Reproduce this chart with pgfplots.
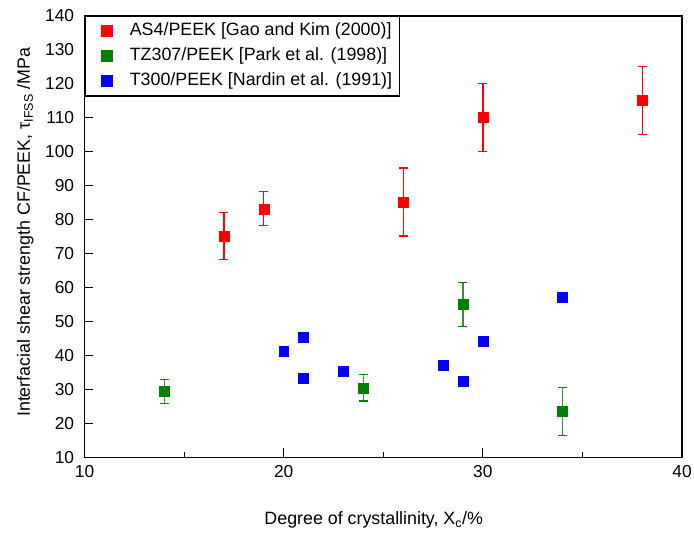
\documentclass[border=0pt]{standalone}
\usepackage{fontspec}
\setmainfont{Liberation Sans}
\usepackage{pgfplots}
\pgfplotsset{compat=1.18}
\usetikzlibrary{calc}
\definecolor{cred}{RGB}{255,0,0}
\definecolor{cgreen}{RGB}{0,128,0}
\definecolor{cblue}{RGB}{0,0,255}
\begin{document}
\begin{tikzpicture}
\begin{axis}[
  name=ax,
  scale only axis,
  width=601bp, height=444bp,
  xmin=10, xmax=40, ymin=10, ymax=140,
  xtick={10,20,30,40},
  ytick={10,20,...,140},
  minor x tick num=1,
  xtick pos=bottom, ytick pos=left,
  tick align=inside,
  major tick length=9bp, minor tick length=5bp,
  tick style={black, line width=1bp},
  axis line style={line width=1.6bp},
  /pgf/number format/assume math mode=true,
  ticklabel style={font=\fontsize{17.5}{21}\selectfont},
  xticklabel style={yshift=-5bp},
  yticklabel style={xshift=-7bp},
  xlabel={Degree of crystallinity, X\textsubscript{c}/\%},
  ylabel={Interfacial shear strength CF/PEEK, τ\textsubscript{IFSS} /MPa},
  label style={font=\fontsize{18}{21}\selectfont},
  xlabel style={at={(axis description cs:0.484,0)}, anchor=base, yshift=-68bp},
  ylabel style={at={(axis description cs:-0.099,0.51)}, anchor=center},
  legend style={at={(0,1)}, anchor=north west, draw=black, line width=1.2bp,
    font=\fontsize{18}{21}\selectfont, row sep=0bp, inner xsep=7.5bp, inner ysep=2.5bp,
    nodes={inner xsep=0bp, inner ysep=4bp, text height=13bp, text depth=4bp}},
  legend cell align=left,
  legend image code/.code={%
    \path[draw=none, fill=none] (0bp,-5bp) (37.5bp,5bp);
    \draw[#1, mark size=5.5bp] plot coordinates {(14.5bp,0bp)};},
]
\addplot+[only marks, mark=square*, mark size=5bp, draw=cred, fill=cred,
  mark options={draw=cred, fill=cred},
  error bars/.cd, y dir=both, y explicit,
  error bar style={line width=1.3bp, color=cred, solid},
  error mark options={rotate=90, mark size=4.5bp, line width=1.3bp, color=cred}]
  coordinates {
    (17,75.2) +- (0,7)
    (19,83.2) +- (0,5)
    (26,85.2) +- (0,10)
    (30,110.1) +- (0,10)
    (38,115.1) +- (0,10)
  };
\addplot+[only marks, mark=square*, mark size=5bp, draw=cgreen, fill=cgreen,
  mark options={draw=cgreen, fill=cgreen},
  error bars/.cd, y dir=both, y explicit,
  error bar style={line width=1.3bp, color=cgreen!80, solid},
  error mark options={rotate=90, mark size=4.5bp, line width=1.3bp, color=cgreen}]
  coordinates {
    (14,29.4) +- (0,3.6)
    (24,30.5) +- (0,3.9)
    (29,55.0) +- (0,6.4)
    (34,23.5) +- (0,7.1)
  };
\addplot+[only marks, mark=square*, mark size=5bp, draw=cblue, fill=cblue,
  mark options={draw=cblue, fill=cblue}]
  coordinates {
    (20,41.3) (21,45.3) (21,33.3) (23,35.4)
    (28,37.2) (29,32.3) (30,44.2) (34,57.3)
  };
\legend{AS4/PEEK [Gao and Kim (2000)], TZ307/PEEK [Park et al. (1998)], T300/PEEK [Nardin et al. (1991)]}
\end{axis}
\pgfresetboundingbox
\path[use as bounding box] ($(ax.south west)+(-85bp,-78bp)$) rectangle ($(ax.north east)+(12bp,16bp)$);
\end{tikzpicture}
\end{document}
